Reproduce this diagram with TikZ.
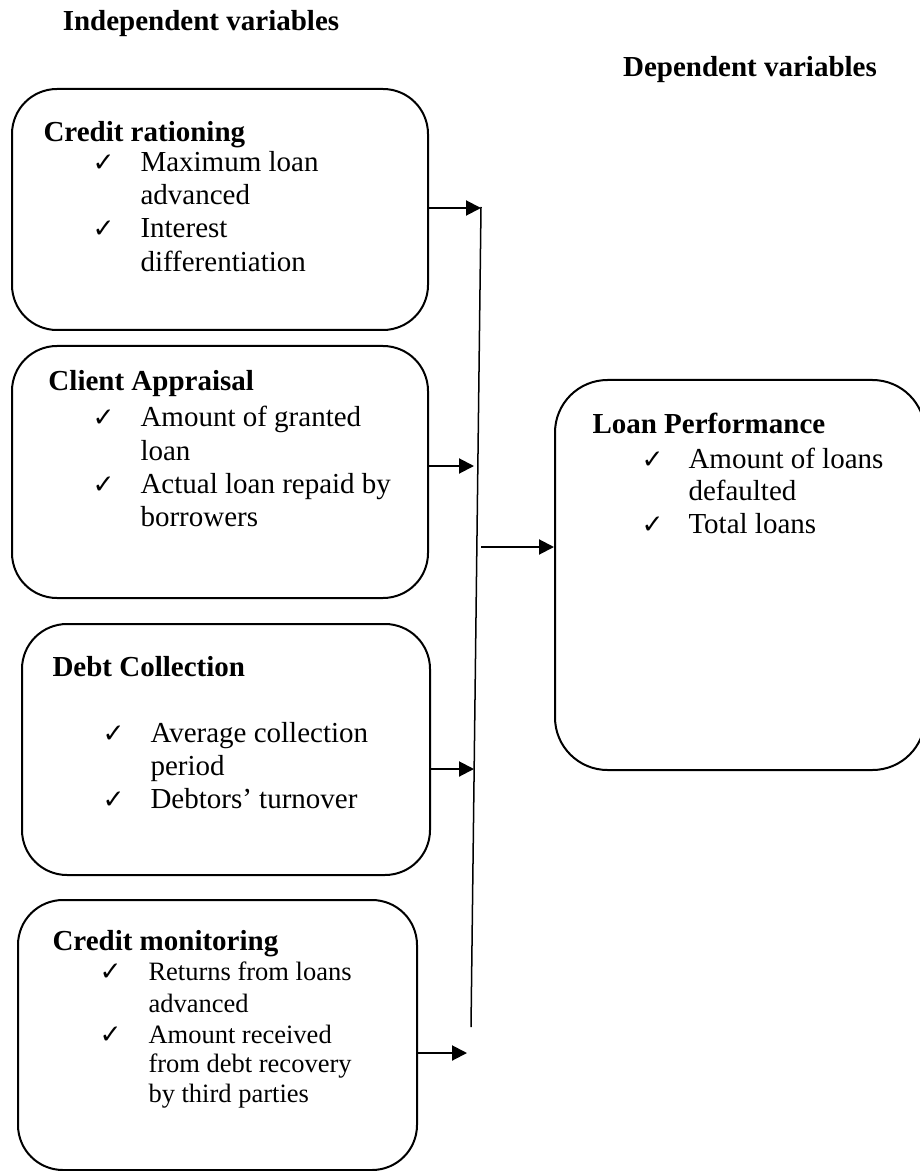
\documentclass[tikz,border=0pt]{standalone}
\usepackage{fontspec}
\setmainfont{Liberation Serif}
\newfontfamily\symfont{DejaVu Sans}
\usetikzlibrary{arrows.meta,fit}
\begin{document}
\begin{tikzpicture}[x=0.4pt,y=-0.4pt,
  box/.style={draw=black, line width=0.8pt, rounded corners=18pt, inner sep=0pt},
  bigbox/.style={draw=black, line width=0.8pt, rounded corners=21pt, inner sep=0pt},
  txt/.style={anchor=base west, inner sep=0pt, font=\fontsize{11.6}{13}\selectfont},
  stxt/.style={anchor=base west, inner sep=0pt, font=\fontsize{10.6}{12}\selectfont},
  ttl/.style={anchor=base west, inner sep=0pt, font=\fontsize{11.6}{13}\selectfont\bfseries},
  head/.style={anchor=base, inner sep=0pt, font=\fontsize{11.6}{13}\selectfont\bfseries},
  chk/.style={anchor=base west, inner sep=0pt, font=\symfont\fontsize{10.5}{12}\selectfont},
  arr/.style={line width=0.8pt, -{Triangle[length=6pt,width=6pt]}},
  spine/.style={line width=0.6pt}]
\useasboundingbox (0,0) rectangle (919,1171);

% headings
\node[head] (hi) at (201,31) {Independent variables};
\node[head] (hd) at (750,77) {Dependent variables};

% boxes
\node[box, fit={(12,89) (428,330)}] (b1) {};
\node[box, fit={(12,346) (428,598)}] (b2) {};
\node[box, fit={(22,624) (430,875)}] (b3) {};
\node[box, fit={(18,900) (417,1170)}] (b4) {};
\node[bigbox, fit={(555,380) (925,770)}] (b5) {};

% box 1 text
\node[ttl] (b1t) at (43,142) {Credit rationing};
\node[chk] (b1c1) at (92,172) {✓};
\node[txt] (b1i1) at (140,172) {Maximum loan};
\node[txt] (b1i1b) at (140,205) {advanced};
\node[chk] (b1c2) at (92,238) {✓};
\node[txt] (b1i2) at (140,238) {Interest};
\node[txt] (b1i2b) at (140,272) {differentiation};

% box 2 text
\node[ttl] (b2t) at (48,390) {Client Appraisal};
\node[chk] (b2c1) at (92,427) {✓};
\node[txt] (b2i1) at (140,427) {Amount of granted};
\node[txt] (b2i1b) at (140,460) {loan};
\node[chk] (b2c2) at (92,493) {✓};
\node[txt] (b2i2) at (140,493) {Actual loan repaid by};
\node[txt] (b2i2b) at (140,526) {borrowers};

% box 3 text
\node[ttl] (b3t) at (52,676) {Debt Collection};
\node[chk] (b3c1) at (102,742) {✓};
\node[txt] (b3i1) at (150,742) {Average collection};
\node[txt] (b3i1b) at (150,775) {period};
\node[chk] (b3c2) at (102,808) {✓};
\node[txt] (b3i2) at (150,808) {Debtors’ turnover};

% box 4 text
\node[ttl] (b4t) at (52,950) {Credit monitoring};
\node[chk] (b4c1) at (99,980) {✓};
\node[stxt] (b4i1) at (148,980) {Returns from loans};
\node[stxt] (b4i1b) at (148,1012) {advanced};
\node[chk] (b4c2) at (99,1043) {✓};
\node[stxt] (b4i2) at (148,1043) {Amount received};
\node[stxt] (b4i2b) at (148,1072) {from debt recovery};
\node[stxt] (b4i2c) at (148,1102) {by third parties};

% box 5 text
\node[ttl] (b5t) at (592,433) {Loan Performance};
\node[chk] (b5c1) at (641,468) {✓};
\node[txt] (b5i1) at (688,468) {Amount of loans};
\node[txt] (b5i1b) at (688,500) {defaulted};
\node[chk] (b5c2) at (641,533) {✓};
\node[txt] (b5i2) at (688,533) {Total loans};

% spine and arrows
\coordinate (top) at (481,207);
\coordinate (bot) at (471,1027);
\draw[spine] (top) -- (bot);
\coordinate (t1) at (481,208);
\coordinate (t2) at (474,466);
\coordinate (t3) at (474,769);
\coordinate (t4) at (467,1053);
\coordinate (c1) at (481,547);
\draw[arr] (t1 -| b1.east) -- (t1);
\draw[arr] (t2 -| b2.east) -- (t2);
\draw[arr] (t3 -| b3.east) -- (t3);
\draw[arr] (t4 -| b4.east) -- (t4);
\draw[arr] (c1) -- (c1 -| b5.west);
\end{tikzpicture}
\end{document}
